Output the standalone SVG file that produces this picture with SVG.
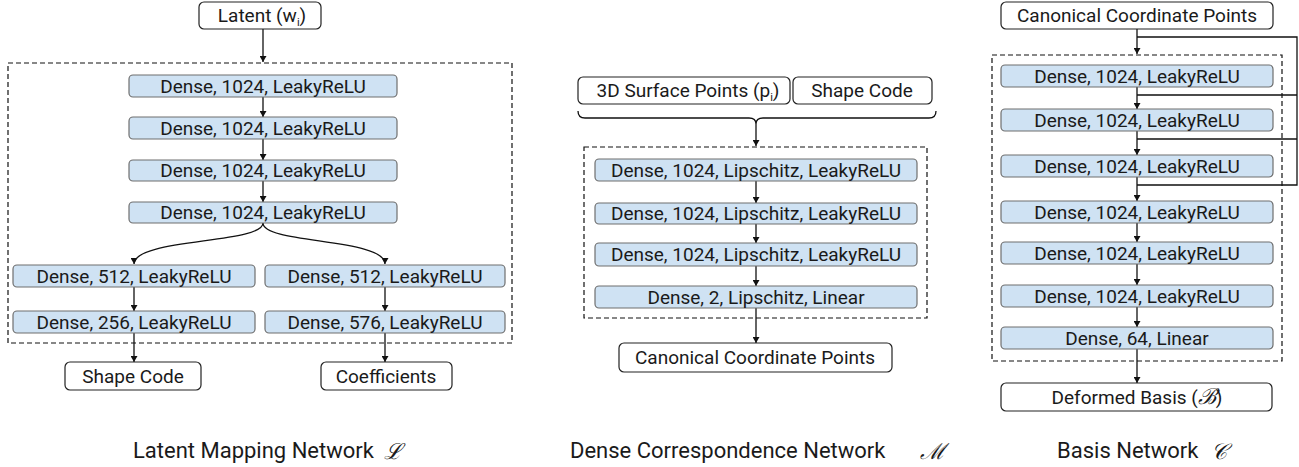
<svg xmlns="http://www.w3.org/2000/svg" width="1299" height="467" viewBox="0 0 1299 467">
  <style>
    text { font-family: Roboto, "Liberation Sans", sans-serif; font-size: 19px; fill: #1a1a1a; }
    .layer { fill: #cfe2f3; stroke: #6f6f6f; stroke-width: 1.2; }
    .io { fill: #ffffff; stroke: #222222; stroke-width: 1.2; }
    .group { fill: none; stroke: #111111; stroke-width: 1.2; stroke-dasharray: 5 3; }
    .edge { fill: none; stroke: #111111; stroke-width: 1.3; }
    .arrow { fill: none; stroke: #111111; stroke-width: 1.3; marker-end: url(#head); }
    .sym { font-family: "DejaVu Serif", "Liberation Serif", serif; font-style: italic; font-size: 22px; }
    .cap { font-size: 22px; }
  </style>
  <defs>
    <marker id="head" markerUnits="userSpaceOnUse" markerWidth="6" markerHeight="7" refX="6" refY="3.5" orient="auto">
      <path d="M0,0 L6,3.5 L0,7 z" fill="#111111"/>
    </marker>
  </defs>

  <!-- dashed groupings -->
  <g id="groups">
    <rect class="group" x="8" y="63" width="504" height="280"/>
    <rect class="group" x="584" y="147" width="343" height="171"/>
    <rect class="group" x="992" y="55" width="290" height="306"/>
  </g>

  <!-- connectors -->
  <g id="connectors">
    <!-- latent mapping network -->
    <path class="arrow" d="M263,29 V62"/>
    <path class="arrow" d="M263,97 V117"/>
    <path class="arrow" d="M263,139 V160"/>
    <path class="arrow" d="M263,181 V202"/>
    <path class="arrow" d="M263,223 C263,244 134,238 134,264"/>
    <path class="arrow" d="M263,223 C263,244 385,238 385,264"/>
    <path class="arrow" d="M134,287 V311"/>
    <path class="arrow" d="M385,287 V311"/>
    <path class="arrow" d="M134,333 V362"/>
    <path class="arrow" d="M385,333 V362"/>
    <!-- dense correspondence network -->
    <path class="edge" d="M578,111 Q578,118 585,118 H749 Q756,118 756,124 Q756,118 763,118 H929 Q936,118 936,111"/>
    <path class="arrow" d="M756,124 V146"/>
    <path class="arrow" d="M756,181 V203"/>
    <path class="arrow" d="M756,224 V243"/>
    <path class="arrow" d="M756,266 V286"/>
    <path class="arrow" d="M756,308 V343"/>
    <!-- basis network -->
    <path class="arrow" d="M1137,29 V54"/>
    <path class="edge" d="M1137,37 H1297 V185 H1137 M1297,95 H1137 M1297,139 H1137"/>
    <path class="arrow" d="M1137,87 V109"/>
    <path class="arrow" d="M1137,131 V155"/>
    <path class="arrow" d="M1137,177 V201"/>
    <path class="arrow" d="M1137,223 V242"/>
    <path class="arrow" d="M1137,264 V285"/>
    <path class="arrow" d="M1137,307 V327"/>
    <path class="arrow" d="M1137,349 V383"/>
  </g>

  <!-- Latent Mapping Network -->
  <g id="latent-input">
    <rect class="io" x="199" y="2" width="122" height="27" rx="5"/>
    <text x="262" y="22" text-anchor="middle">Latent (w<tspan font-size="11" dy="4">i</tspan><tspan dy="-4">)</tspan></text>
  </g>
  <g id="lm-dense-1">
    <rect class="layer" x="129" y="75" width="268" height="22" rx="4"/>
    <text x="263" y="93" text-anchor="middle">Dense, 1024, LeakyReLU</text>
  </g>
  <g id="lm-dense-2">
    <rect class="layer" x="129" y="117" width="268" height="22" rx="4"/>
    <text x="263" y="135" text-anchor="middle">Dense, 1024, LeakyReLU</text>
  </g>
  <g id="lm-dense-3">
    <rect class="layer" x="129" y="160" width="268" height="21" rx="4"/>
    <text x="263" y="177" text-anchor="middle">Dense, 1024, LeakyReLU</text>
  </g>
  <g id="lm-dense-4">
    <rect class="layer" x="129" y="202" width="268" height="21" rx="4"/>
    <text x="263" y="219" text-anchor="middle">Dense, 1024, LeakyReLU</text>
  </g>
  <g id="lm-shape-512">
    <rect class="layer" x="13" y="265" width="242" height="22" rx="4"/>
    <text x="134" y="283" text-anchor="middle">Dense, 512, LeakyReLU</text>
  </g>
  <g id="lm-shape-256">
    <rect class="layer" x="13" y="311" width="242" height="22" rx="4"/>
    <text x="134" y="329" text-anchor="middle">Dense, 256, LeakyReLU</text>
  </g>
  <g id="lm-coef-512">
    <rect class="layer" x="265" y="265" width="240" height="22" rx="4"/>
    <text x="385" y="283" text-anchor="middle">Dense, 512, LeakyReLU</text>
  </g>
  <g id="lm-coef-576">
    <rect class="layer" x="265" y="311" width="240" height="22" rx="4"/>
    <text x="385" y="329" text-anchor="middle">Dense, 576, LeakyReLU</text>
  </g>
  <g id="shape-code-out">
    <rect class="io" x="65" y="362" width="136" height="28" rx="5"/>
    <text x="133" y="383" text-anchor="middle">Shape Code</text>
  </g>
  <g id="coefficients-out">
    <rect class="io" x="321" y="362" width="131" height="28" rx="5"/>
    <text x="386" y="383" text-anchor="middle">Coefficients</text>
  </g>

  <!-- Dense Correspondence Network -->
  <g id="surface-points-in">
    <rect class="io" x="578" y="77" width="212" height="27" rx="5"/>
    <text x="688" y="97" text-anchor="middle">3D Surface Points (p<tspan font-size="11" dy="4">i</tspan><tspan dy="-4">)</tspan></text>
  </g>
  <g id="shape-code-in">
    <rect class="io" x="793" y="77" width="139" height="27" rx="5"/>
    <text x="862" y="97" text-anchor="middle">Shape Code</text>
  </g>
  <g id="dc-dense-1">
    <rect class="layer" x="595" y="159" width="322" height="22" rx="4"/>
    <text x="756" y="177" text-anchor="middle">Dense, 1024, Lipschitz, LeakyReLU</text>
  </g>
  <g id="dc-dense-2">
    <rect class="layer" x="595" y="203" width="322" height="21" rx="4"/>
    <text x="756" y="220" text-anchor="middle">Dense, 1024, Lipschitz, LeakyReLU</text>
  </g>
  <g id="dc-dense-3">
    <rect class="layer" x="595" y="243" width="322" height="23" rx="4"/>
    <text x="756" y="261" text-anchor="middle">Dense, 1024, Lipschitz, LeakyReLU</text>
  </g>
  <g id="dc-dense-4">
    <rect class="layer" x="595" y="286" width="322" height="22" rx="4"/>
    <text x="756" y="304" text-anchor="middle">Dense, 2, Lipschitz, Linear</text>
  </g>
  <g id="canonical-out">
    <rect class="io" x="619" y="343" width="273" height="29" rx="5"/>
    <text x="755" y="364" text-anchor="middle">Canonical Coordinate Points</text>
  </g>

  <!-- Basis Network -->
  <g id="canonical-in">
    <rect class="io" x="1001" y="2" width="272" height="27" rx="5"/>
    <text x="1137" y="22" text-anchor="middle">Canonical Coordinate Points</text>
  </g>
  <g id="bn-dense-1">
    <rect class="layer" x="1001" y="65" width="272" height="22" rx="4"/>
    <text x="1137" y="83" text-anchor="middle">Dense, 1024, LeakyReLU</text>
  </g>
  <g id="bn-dense-2">
    <rect class="layer" x="1001" y="109" width="272" height="22" rx="4"/>
    <text x="1137" y="127" text-anchor="middle">Dense, 1024, LeakyReLU</text>
  </g>
  <g id="bn-dense-3">
    <rect class="layer" x="1001" y="155" width="272" height="22" rx="4"/>
    <text x="1137" y="173" text-anchor="middle">Dense, 1024, LeakyReLU</text>
  </g>
  <g id="bn-dense-4">
    <rect class="layer" x="1001" y="201" width="272" height="22" rx="4"/>
    <text x="1137" y="219" text-anchor="middle">Dense, 1024, LeakyReLU</text>
  </g>
  <g id="bn-dense-5">
    <rect class="layer" x="1001" y="242" width="272" height="22" rx="4"/>
    <text x="1137" y="260" text-anchor="middle">Dense, 1024, LeakyReLU</text>
  </g>
  <g id="bn-dense-6">
    <rect class="layer" x="1001" y="285" width="272" height="22" rx="4"/>
    <text x="1137" y="303" text-anchor="middle">Dense, 1024, LeakyReLU</text>
  </g>
  <g id="bn-dense-7">
    <rect class="layer" x="1001" y="327" width="272" height="22" rx="4"/>
    <text x="1137" y="345" text-anchor="middle">Dense, 64, Linear</text>
  </g>
  <g id="deformed-basis-out">
    <rect class="io" x="1001" y="383" width="271" height="28" rx="5"/>
    <text x="1137" y="404" text-anchor="middle">Deformed Basis (<tspan class="sym" font-size="18">ℬ</tspan>)</text>
  </g>

  <!-- captions -->
  <g id="captions">
    <text class="cap" x="133" y="458">Latent Mapping Network</text>
    <text class="sym" x="384" y="459">ℒ</text>
    <text class="cap" x="570" y="458">Dense Correspondence Network</text>
    <text class="sym" x="920" y="459">ℳ</text>
    <text class="cap" x="1057" y="458">Basis Network</text>
    <text class="sym" x="1211" y="459">𝒞</text>
  </g>
</svg>
